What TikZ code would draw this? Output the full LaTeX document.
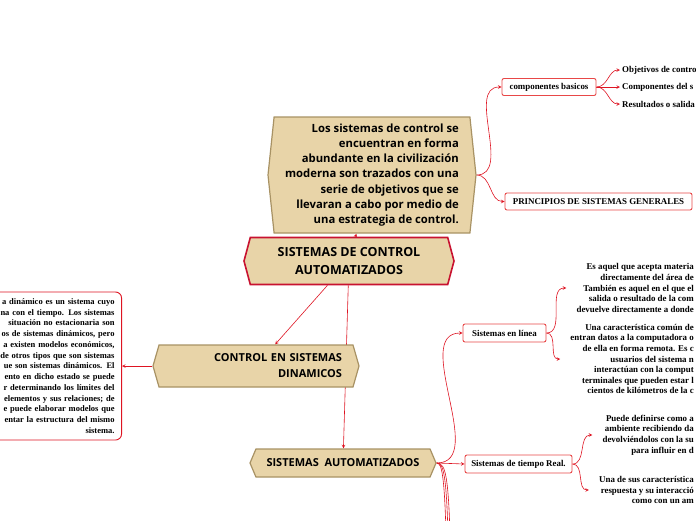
\documentclass[tikz,border=0pt]{standalone}
\usepackage{fontspec}
\setmainfont{Liberation Serif}
\newfontfamily\hexfont{Open Sans}
\usepackage{tikz}
\usetikzlibrary{arrows,shapes,backgrounds}
\definecolor{hexfill}{RGB}{232,212,168}
\definecolor{hexline}{RGB}{168,146,100}
\definecolor{linkred}{RGB}{222,20,34}
\definecolor{mainred}{RGB}{200,18,48}
\definecolor{boxred}{RGB}{232,72,72}
\tikzstyle{link}=[draw=linkred,-stealth,semithick]
\tikzstyle{hexa} =
  [shape=signal, signal to=west and east, draw=hexline, fill=hexfill,
   line width=1.2pt, font=\hexfont\bfseries, inner sep=0pt]
\tikzstyle{topic} =
  [rectangle, draw=boxred, fill=white, rounded corners=2pt, line width=0.9pt,
   font=\bfseries\fontsize{8.9}{10.6}\selectfont, inner sep=0pt, minimum height=17pt]
\tikzstyle{note} =
  [font=\bfseries\fontsize{8.9}{10.6}\selectfont, align=right, inner ysep=0pt]

\begin{document}
\begin{tikzpicture}[x=1pt, y=-1pt]
  \useasboundingbox (0,0) rectangle (696,520);
  \clip (0,0) rectangle (696,520);

  \node [hexa, minimum width=208pt, minimum height=116pt, signal pointer angle=168,
    align=right, font=\hexfont\bfseries\fontsize{11.3}{15.3}\selectfont]
    (d) at (372,175) {Los sistemas de control se\\ encuentran en forma\\
    abundante  en la civilización\\ moderna  son trazados  con una\\
    serie de objetivos que se\\ llevaran a cabo por medio de\\
    una estrategia de control.};
  \node [hexa, draw=mainred, line width=1.6pt, minimum width=210pt, minimum height=47pt,
    signal pointer angle=150, align=center,
    font=\hexfont\bfseries\fontsize{12.5}{18}\selectfont]
    (m) at (349,261) {SISTEMAS DE CONTROL\\ AUTOMATIZADOS};
  \node [hexa, minimum width=206pt, minimum height=42pt, signal pointer angle=148,
    text width=172pt, align=right, font=\hexfont\bfseries\fontsize{11}{16}\selectfont]
    (c) at (256,366) {CONTROL EN SISTEMAS\\ DINAMICOS\par};
  \node [hexa, minimum width=186pt, minimum height=28pt, signal pointer angle=134,
    font=\hexfont\bfseries\fontsize{11}{14}\selectfont]
    (s) at (343,463) {SISTEMAS~~AUTOMATIZADOS};

  \node [note, draw=linkred, rounded corners=6pt, line width=0.9pt, anchor=east,
    minimum height=148pt, text width=160pt, inner xsep=7pt,
    font=\bfseries\fontsize{8.5}{10.75}\selectfont]
    (lb) at (122,366) {a dinámico es un sistema cuyo\\ na con el tiempo. Los sistemas\\
    situación no estacionaria son\\ os de sistemas dinámicos, pero\\
    a existen modelos económicos,\\ de otros tipos que son sistemas\\
    ue son sistemas dinámicos. El\\ ento en dicho estado se puede\\
    r determinando los límites del\\ elementos y sus relaciones; de\\
    e puede elaborar modelos que\\ entar la estructura del mismo\\ sistema.\par};

  \node [topic, minimum width=94pt] (cb) at (549,87) {componentes basicos};
  \node [topic, minimum width=187pt] (pr) at (598.5,201.5) {PRINCIPIOS DE SISTEMAS GENERALES};
  \node [topic, minimum width=83pt, minimum height=18pt] (sl) at (504.5,333) {Sistemas en línea};
  \node [topic, minimum width=107pt, minimum height=18pt] (st) at (518.5,464) {Sistemas de tiempo Real.};

  \node [note, anchor=west, inner xsep=2pt] (o1) at (620,70) {Objetivos de contro};
  \node [note, anchor=west, inner xsep=2pt] (o2) at (620,87) {Componentes del s};
  \node [note, anchor=west, inner xsep=2pt] (o3) at (620,104) {Resultados o salida};

  \node [note, anchor=east, inner xsep=10pt] (b1) at (704,288) {Es aquel que acepta materia\\
    directamente del área de\\ También es aquel en el que el\\
    salida o resultado de la com\\ devuelve directamente a donde};
  \node [note, anchor=east, inner xsep=10pt] (b2) at (704,359) {Una característica común de\\
    entran datos a la computadora o\\ de ella en forma remota. Es c\\
    usuarios del sistema n\\ interactúan con la comput\\
    terminales que pueden estar l\\ cientos de kilómetros de la c};
  \node [note, anchor=east, inner xsep=10pt] (b3) at (704,435) {Puede definirse como a\\
    ambiente recibiendo da\\ devolviéndolos con la su\\ para influir en d};
  \node [note, anchor=east, inner xsep=10pt] (b4) at (704,490) {Una de sus característica\\
    respuesta y su interacció\\ como con un am};

  \coordinate (z1) at (447,600);
  \coordinate (z2) at (449,600);
  \coordinate (z3) at (451,600);

  \begin{scope}[on background layer]
    \draw [link] (m) -- (d);
    \draw [link] (m) -- (c);
    \draw [link] (m) -- (s);
    \draw [link] (c.west) -- (lb.east);
    \draw [link] (d.east) to [out=0, in=180] (cb.west);
    \draw [link] (d.east) to [out=0, in=180] (pr.west);
    \draw [link] (cb.east) to [out=0, in=180] (o1.west);
    \draw [link] (cb.east) -- (o2.west);
    \draw [link] (cb.east) to [out=0, in=180] (o3.west);
    \draw [link] (s.east) to [out=0, in=180] (sl.west);
    \draw [link] (s.east) -- (st.west);
    \draw [link] (sl.east) to [out=0, in=180] (b1.west);
    \draw [link] (sl.east) to [out=0, in=180] (b2.west);
    \draw [link] (st.east) to [out=0, in=180] (b3.west);
    \draw [link] (st.east) to [out=0, in=180] (b4.west);
    \draw [link] (s.east) .. controls (442,463) and (446,472) .. (z1);
    \draw [link] (s.east) .. controls (444,463) and (448,472) .. (z2);
    \draw [link] (s.east) .. controls (446,463) and (450,472) .. (z3);
  \end{scope}
\end{tikzpicture}
\end{document}
